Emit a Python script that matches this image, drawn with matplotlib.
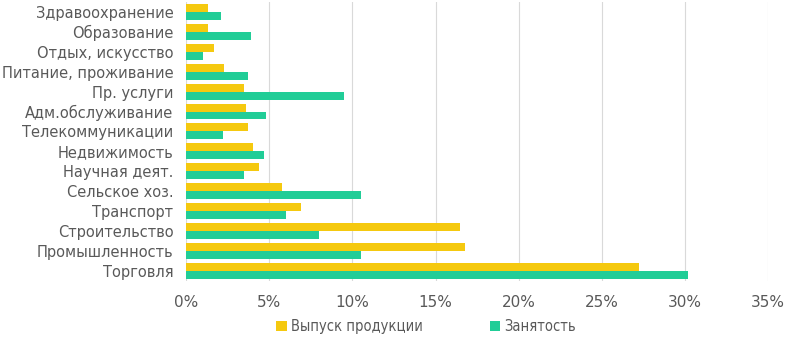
import matplotlib.pyplot as plt
from matplotlib.ticker import PercentFormatter

# Отрасли (снизу вверх)
otrasli = ['Торговля', 'Промышленность', 'Строительство', 'Транспорт',
           'Сельское хоз.', 'Научная деят.', 'Недвижимость', 'Телекоммуникации',
           'Адм.обслуживание', 'Пр. услуги', 'Питание, проживание',
           'Отдых, искусство', 'Образование', 'Здравоохранение']
vypusk = [27.2, 16.8, 16.5, 6.9, 5.8, 4.4, 4.0, 3.7, 3.6, 3.5, 2.3, 1.7, 1.3, 1.3]
zanyatost = [30.2, 10.5, 8.0, 6.0, 10.5, 3.5, 4.7, 2.2, 4.8, 9.5, 3.7, 1.0, 3.9, 2.1]
xticks = [0, 5, 10, 15, 20, 25, 30, 35]

amarillo = '#F5C90F'
verde = '#21CD97'
gris = '#595959'

fig = plt.figure(figsize=(7.88, 3.39), dpi=100)
ax = fig.add_axes([0.236, 0.172, 0.739, 0.822])

y = range(len(otrasli))
ax.barh([i + 0.2 for i in y], vypusk, height=0.4, color=amarillo, label='Выпуск продукции', zorder=3)
ax.barh([i - 0.2 for i in y], zanyatost, height=0.4, color=verde, label='Занятость', zorder=3)

ax.set_yticks(list(y))
ax.set_yticklabels(otrasli, fontsize=10.5, color=gris)
ax.set_ylim(-0.5, len(otrasli) - 0.5)
ax.set_xlim(0, 35)
ax.set_xticks(xticks)
ax.xaxis.set_major_formatter(PercentFormatter(decimals=0))
ax.tick_params(axis='x', labelsize=11, colors=gris, length=0, pad=10)
ax.tick_params(axis='y', length=0, pad=9)

# cuadrícula vertical gris claro
ax.grid(axis='x', color='#D9D9D9', linewidth=0.8, zorder=0)
for s in ax.spines.values():
    s.set_visible(False)

fig.legend(loc='lower center', bbox_to_anchor=(0.541, -0.025), ncol=2, frameon=False,
           prop={'family': 'DejaVu Sans', 'stretch': 'condensed', 'size': 10.5},
           labelcolor=gris, handlelength=0.7, handleheight=0.7,
           handletextpad=0.3, columnspacing=4.6)

fig.savefig('out.png', dpi=100)
